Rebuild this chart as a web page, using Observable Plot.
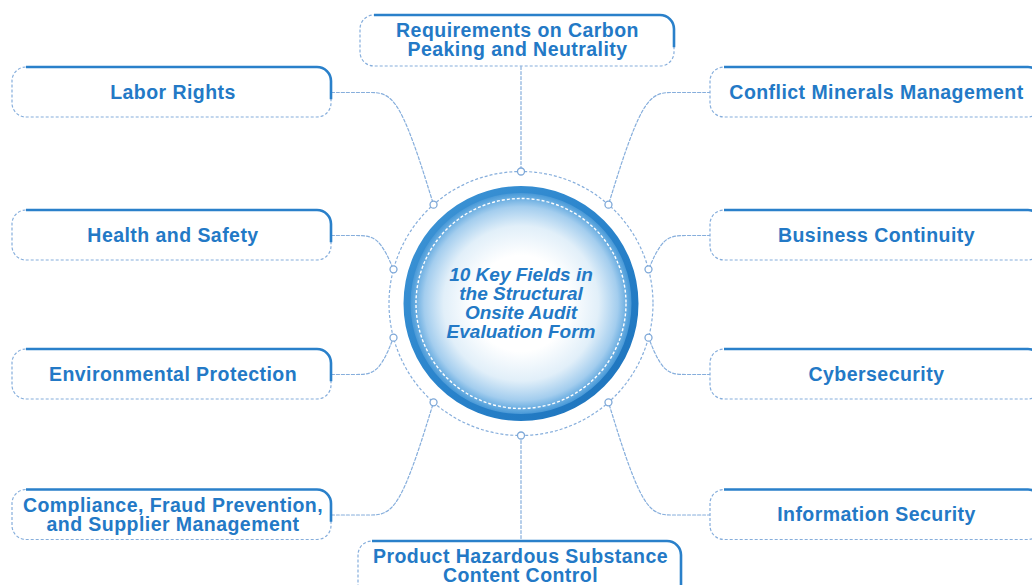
<!DOCTYPE html>
<html><head><meta charset="utf-8">
<script src="https://cdn.jsdelivr.net/npm/d3@7"></script>
<script src="https://cdn.jsdelivr.net/npm/@observablehq/plot@0.6"></script>
<style>html,body{margin:0;padding:0;background:#fff;overflow:hidden}</style>
</head><body><div id="chart"></div>
<script>
// ---- data ----
const centerTitle = "10 Key Fields in\nthe Structural\nOnsite Audit\nEvaluation Form";
const topLabel = "Requirements on Carbon\nPeaking and Neutrality";
const bottomLabel = "Product Hazardous Substance\nContent Control";
const leftLabels = ["Labor Rights", "Health and Safety", "Environmental Protection", "Compliance, Fraud Prevention,\nand Supplier Management"];
const rightLabels = ["Conflict Minerals Management", "Business Continuity", "Cybersecurity", "Information Security"];
const nodeAngles = [41.5, 75, 105, 138.5]; // degrees from top, one per row

// ---- layout ----
const W = 1032, H = 585;
const cx = 520.5, cy = 303, ringR = 132, mainR = 114, innerR = 105;
const rowY = [92, 235, 374, 514.5];
const boxH = 50;
const leftBox = [12, 331], rightBox = [710, 1042];
const elbow = [[39, 67], [24, 47], [24, 47], [39, 67]];
const textC = "#2379c6", solidC = "#2a80ca", dashC = "#86aedc";

const node = (side, a) => ({x: cx + side * ringR * Math.sin(a * Math.PI / 180), y: cy - ringR * Math.cos(a * Math.PI / 180)});

const leftBoxes = leftLabels.map((label, i) => ({label, x1: leftBox[0], x2: leftBox[1], y1: rowY[i] - boxH / 2, y2: rowY[i] + boxH / 2, xc: (leftBox[0] + leftBox[1]) / 2 + 1, yc: rowY[i]}));
const rightBoxes = rightLabels.map((label, i) => ({label, x1: rightBox[0], x2: rightBox[1], y1: rowY[i] - boxH / 2, y2: rowY[i] + boxH / 2, xc: (rightBox[0] + rightBox[1]) / 2, yc: rowY[i]}));
const topBox = [{label: topLabel, x1: 360, x2: 674, y1: 15, y2: 66, xc: 517, yc: 40}];
const bottomBox = [{label: bottomLabel, x1: 358, x2: 681, y1: 541, y2: 600, xc: 520, yc: 566}];

const connectors = [];
nodeAngles.forEach((a, i) => {
  const nl = node(-1, a), nr = node(1, a);
  const y = rowY[i];
  [[leftBox[1], 1, nl], [rightBox[0], -1, nr]].forEach(([x0, dir, n], k) => {
    const id = `${k}-${i}`;
    connectors.push({id, x: x0, y});
    connectors.push({id, x: x0 + dir * elbow[i][0], y});
    connectors.push({id, x: x0 + dir * elbow[i][1], y});
    connectors.push({id, x: n.x, y: n.y});
  });
});
connectors.push({id: "t", x: cx, y: 66}, {id: "t", x: cx, y: cy - ringR});
connectors.push({id: "b", x: cx, y: cy + ringR}, {id: "b", x: cx, y: 541});

const nodes = [{x: cx, y: cy - ringR}, {x: cx, y: cy + ringR}];
nodeAngles.forEach(a => { nodes.push(node(-1, a)); nodes.push(node(1, a)); });

const center = [{x: cx, y: cy, label: centerTitle}];

const defs = () => {
  const g = d3.create("svg:defs");
  const rg = g.append("radialGradient").attr("id", "glow").attr("cx", "50%").attr("cy", "50%").attr("r", "50%");
  [[0, "#ffffff"], [0.42, "#ffffff"], [0.68, "#e1eff9"], [0.85, "#a3cdee"], [0.95, "#56a2dc"], [1, "#3489cf"]]
    .forEach(([o, c]) => rg.append("stop").attr("offset", o).attr("stop-color", c));
  const lg = g.append("linearGradient").attr("id", "rim").attr("x1", "0").attr("y1", "0").attr("x2", "1").attr("y2", "1");
  [[0, "#3f95d6"], [0.5, "#2a84cc"], [1, "#1c72bb"]].forEach(([o, c]) => lg.append("stop").attr("offset", o).attr("stop-color", c));
  return g.node();
};

const rectBase = {x1: "x1", x2: "x2", y1: "y1", y2: "y2", rx: 14, fill: "white"};
const dashed = data => Plot.rect(data, {...rectBase, stroke: dashC, strokeWidth: 1.2, strokeDasharray: "3,2"});

const plot = Plot.plot({
  width: W, height: H, margin: 0,
  x: {domain: [0, W], range: [0, W], axis: null},
  y: {domain: [0, H], range: [0, H], axis: null},
  style: {background: "white", overflow: "hidden"},
  marks: [
    defs,
    Plot.line(connectors, {x: "x", y: "y", z: "id", curve: "basis", stroke: dashC, strokeWidth: 1.2, strokeDasharray: "3,2"}),
    Plot.dot(center, {x: "x", y: "y", r: ringR, fill: "none", stroke: dashC, strokeWidth: 1.2, strokeDasharray: "3,2"}),
    Plot.dot(nodes, {x: "x", y: "y", r: 3.5, fill: "white", stroke: "#7ea8d8", strokeWidth: 1.3}),
    Plot.dot(center, {x: "x", y: "y", r: mainR, fill: "url(#glow)", stroke: "url(#rim)", strokeWidth: 7}),
    Plot.dot(center, {x: "x", y: "y", r: innerR, fill: "none", stroke: "white", strokeWidth: 1.4, strokeDasharray: "3,2"}),
    Plot.text(center, {x: "x", y: "y", text: "label", fontSize: 19, fontWeight: "bold", fontStyle: "italic", fill: textC, fontFamily: "Liberation Sans, Arial, sans-serif", lineHeight: 1.0}),
    dashed(leftBoxes), dashed(rightBoxes), dashed(topBox), dashed(bottomBox),
    Plot.rect(leftBoxes, {...rectBase, fill: "none", stroke: solidC, strokeWidth: 2.6, strokeDasharray: "331,600"}),
    Plot.rect(rightBoxes, {...rectBase, fill: "none", stroke: solidC, strokeWidth: 2.6, strokeDasharray: "400,400", strokeDashoffset: 40}),
    Plot.rect(topBox, {...rectBase, fill: "none", stroke: solidC, strokeWidth: 2.6, strokeDasharray: "326,600"}),
    Plot.rect(bottomBox, {...rectBase, fill: "none", stroke: solidC, strokeWidth: 2.6, strokeDasharray: "360,600"}),
    Plot.text([...leftBoxes, ...rightBoxes, ...topBox, ...bottomBox], {x: "xc", y: "yc", text: "label", fontSize: 19.5, fontWeight: "bold", fill: textC, fontFamily: "Liberation Sans, Arial, sans-serif", lineHeight: 0.97})
  ]
});
const textGroups = plot.querySelectorAll('g[aria-label="text"]');
if (textGroups.length) textGroups[textGroups.length - 1].style.letterSpacing = "0.45px";
document.getElementById("chart").appendChild(plot);
</script>
</body></html>
